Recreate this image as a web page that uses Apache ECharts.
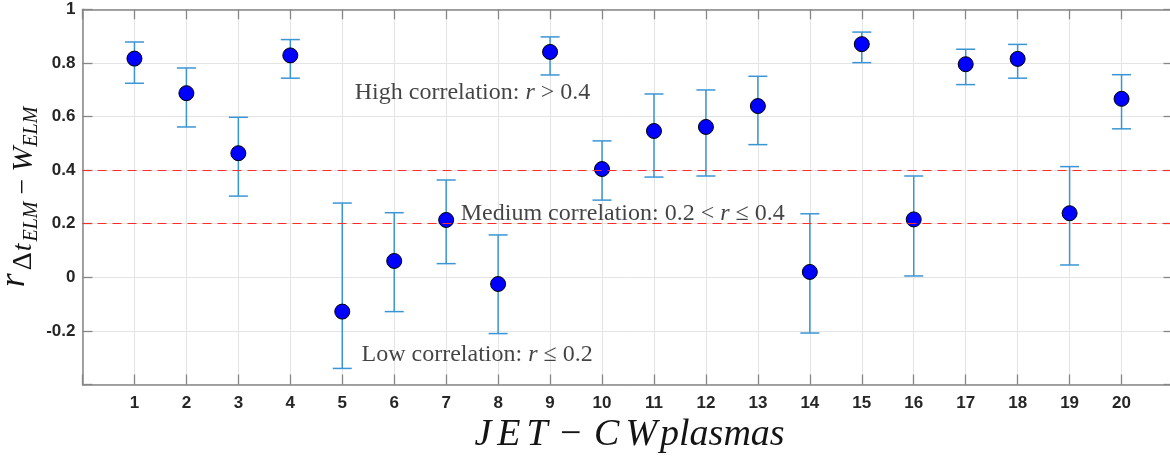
<!DOCTYPE html>
<html>
<head>
<meta charset="utf-8">
<script src="https://cdn.jsdelivr.net/npm/echarts@6/dist/echarts.min.js"></script>
<style>
  html, body { margin: 0; padding: 0; background: #ffffff; }
  #chart { width: 1170px; height: 458px; }
</style>
</head>
<body>
<div id="chart"></div>
<script>
// Plasma index on the x axis
const plasmas = [1, 2, 3, 4, 5, 6, 7, 8, 9, 10, 11, 12, 13, 14, 15, 16, 17, 18, 19, 20];
// Correlation coefficient r between ELM waiting time and ELM energy per plasma
const corr = [0.816, 0.687, 0.463, 0.828, -0.128, 0.061, 0.214, -0.025, 0.841, 0.404,
              0.546, 0.561, 0.639, 0.020, 0.870, 0.216, 0.795, 0.815, 0.239, 0.666];
// Lower and upper ends of the error bars
const ciLow  = [0.724, 0.561, 0.303, 0.743, -0.340, -0.128, 0.051, -0.210, 0.755, 0.288,
                0.374, 0.378, 0.495, -0.208, 0.801, 0.005, 0.719, 0.743, 0.046, 0.554];
const ciHigh = [0.878, 0.781, 0.597, 0.887, 0.277, 0.241, 0.363, 0.158, 0.897, 0.509,
                0.684, 0.699, 0.750, 0.237, 0.915, 0.378, 0.851, 0.869, 0.413, 0.756];
// Correlation class boundaries
const thresholds = [0.4, 0.2];
// Y tick labels
const yTickLabels = ['-0.2', '0', '0.2', '0.4', '0.6', '0.8', '1'];
// Text notes: anchor (left edge, middle) in data units
const noteX = [5.24, 7.28, 5.37];
const noteY = [0.688, 0.236, -0.29];
const noteText = [
  'High correlation: {m|r} > 0.4',
  'Medium correlation: 0.2 < {m|r} \u2264 0.4',
  'Low correlation: {m|r} \u2264 0.2'
];

const AXIS_GREY = '#868686';
const LABEL_DARK = '#262626';
const TEXT_DARK = '#141414';
const BAR_BLUE = '#3a95d5';
const SERIF = '"Liberation Serif", "Times New Roman", serif';
const SANS = '"Liberation Sans", Arial, sans-serif';

const chart = echarts.init(document.getElementById('chart'), null, { renderer: 'canvas' });

const tickFmtY = v => {
  const s = String(Math.round(v * 10) / 10);
  return yTickLabels.indexOf(s) >= 0 ? s : '';
};
const tickFmtX = v => (plasmas.indexOf(v) >= 0 ? String(v) : '');

const axisLine = { show: true, onZero: false, lineStyle: { color: AXIS_GREY, width: 1.5 } };
const axisTick = { show: true, inside: true, length: 10, lineStyle: { color: AXIS_GREY, width: 1.3 } };
const gridLine = { show: true, lineStyle: { color: '#e4e4e4', width: 1 } };

// y axis title pieces: r with subscript (Δt_ELM − W_ELM), laid out along the rotated baseline
const measureCtx = document.createElement('canvas').getContext('2d');
const textWidth = (txt, font) => { measureCtx.font = font; return measureCtx.measureText(txt).width; };
const yTitleParts = [
  { text: 'r',      italic: true,  size: 36, drop: 0,    after: 3 },
  { text: '\u0394', italic: false, size: 28, drop: 7.5,  after: 1 },
  { text: 't',      italic: true,  size: 28, drop: 7.5,  after: 2 },
  { text: 'ELM',    italic: true,  size: 20, drop: 12.5, after: 7 },
  { text: '\u2212', italic: false, size: 28, drop: 7.5,  after: 7 },
  { text: 'W',      italic: true,  size: 30, drop: 8,    after: 0 },
  { text: 'ELM',    italic: true,  size: 20, drop: 12.5, after: 0 }
];
const yTitleChildren = [];
let cursor = 0;
yTitleParts.forEach(p => {
  const font = (p.italic ? 'italic ' : '') + p.size + 'px ' + SERIF;
  yTitleChildren.push({
    type: 'text', x: cursor, y: p.drop - 0.3 * p.size,
    style: { text: p.text, font, fill: TEXT_DARK, verticalAlign: 'middle', align: 'left' }
  });
  cursor += textWidth(p.text, font) + p.after;
});
const yTitleLength = cursor;

const option = {
  animation: false,
  backgroundColor: '#ffffff',
  grid: { left: 82.5, top: 9.3, width: 1091, height: 375.2, outerBoundsMode: 'none' },
  xAxis: [
    {
      type: 'value', min: 0, max: 21, interval: 1, position: 'bottom',
      axisLine, axisTick, splitLine: gridLine,
      axisLabel: {
        formatter: tickFmtX, margin: 10, color: LABEL_DARK,
        fontFamily: SANS, fontWeight: 'bold', fontSize: 17
      },
      name: '{c|J}{c|E}{c|T}{n| \u2212 }{c|C}{c|W}{i|plasmas}',
      nameLocation: 'middle', nameGap: 32,
      nameTextStyle: {
        color: TEXT_DARK,
        rich: {
          c: { fontFamily: SERIF, fontStyle: 'italic', fontSize: 38, color: TEXT_DARK, padding: [0, 3, 0, 3] },
          i: { fontFamily: SERIF, fontStyle: 'italic', fontSize: 38, color: TEXT_DARK },
          n: { fontFamily: SERIF, fontSize: 38, color: TEXT_DARK }
        }
      }
    },
    {
      type: 'value', min: 0, max: 21, interval: 1, position: 'top',
      axisLine, axisTick, splitLine: { show: false }, axisLabel: { show: false }
    }
  ],
  yAxis: [
    {
      type: 'value', min: -0.4, max: 1, interval: 0.2, position: 'left',
      axisLine, axisTick, splitLine: gridLine,
      axisLabel: {
        formatter: tickFmtY, margin: 7, color: LABEL_DARK,
        fontFamily: SANS, fontWeight: 'bold', fontSize: 17
      }
    },
    {
      type: 'value', min: -0.4, max: 1, interval: 0.2, position: 'right',
      axisLine, axisTick, splitLine: { show: false }, axisLabel: { show: false }
    }
  ],
  series: [
    {
      // error bars with caps
      type: 'custom',
      xAxisIndex: 0, yAxisIndex: 0,
      z: 2,
      encode: { x: 0, y: [1, 2] },
      data: plasmas.map((p, i) => [p, ciLow[i], ciHigh[i]]),
      renderItem: (params, api) => {
        const x = api.value(0);
        const lo = api.coord([x, api.value(1)]);
        const hi = api.coord([x, api.value(2)]);
        const hw = 9.5;
        const st = { stroke: BAR_BLUE, lineWidth: 1.5 };
        return {
          type: 'group',
          children: [
            { type: 'line', shape: { x1: lo[0], y1: lo[1], x2: hi[0], y2: hi[1] }, style: st },
            { type: 'line', shape: { x1: lo[0] - hw, y1: lo[1], x2: lo[0] + hw, y2: lo[1] }, style: st },
            { type: 'line', shape: { x1: hi[0] - hw, y1: hi[1], x2: hi[0] + hw, y2: hi[1] }, style: st }
          ]
        };
      },
      markLine: {
        silent: true, symbol: 'none', label: { show: false },
        lineStyle: { color: '#ff2e2e', type: [9, 6], width: 1.1 },
        data: thresholds.map(t => ({ yAxis: t }))
      }
    },
    {
      // correlation values
      type: 'scatter',
      xAxisIndex: 0, yAxisIndex: 0,
      z: 4,
      symbol: 'circle', symbolSize: 15,
      itemStyle: { color: '#0000ff', borderColor: '#000000', borderWidth: 1, opacity: 1 },
      data: plasmas.map((p, i) => [p, corr[i]])
    },
    {
      // class notes
      type: 'scatter',
      xAxisIndex: 0, yAxisIndex: 0,
      z: 3, silent: true,
      symbolSize: 0.1,
      itemStyle: { color: '#ffffff' },
      data: noteX.map((x, i) => [x, noteY[i], noteText[i]]),
      label: {
        show: true, position: 'right', distance: 0,
        formatter: p => p.data[2],
        fontFamily: SERIF, fontSize: 24, color: TEXT_DARK,
        rich: { m: { fontFamily: SERIF, fontStyle: 'italic', fontSize: 24, color: TEXT_DARK } }
      }
    }
  ],
  graphic: [
    {
      type: 'group',
      x: 25, y: 197 + yTitleLength / 2,
      rotation: Math.PI / 2,
      silent: true,
      children: yTitleChildren
    }
  ]
};

chart.setOption(option);
</script>
</body>
</html>
